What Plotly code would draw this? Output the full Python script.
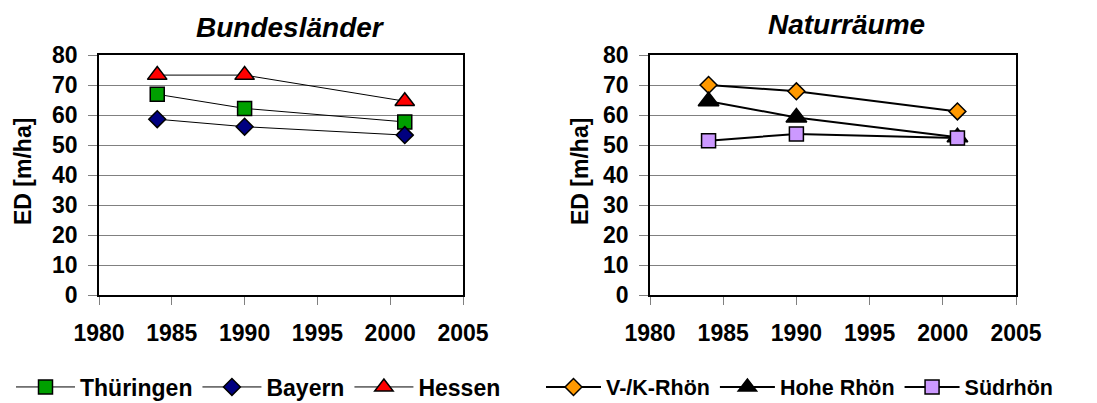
import plotly.graph_objects as go

# Survey years
years = [1984, 1990, 2001]

# Edge density ED [m/ha] per federal state
thueringen = [66.9, 62.2, 57.7]
bayern = [58.6, 56.1, 53.3]
hessen = [73.3, 73.3, 64.6]

# Edge density ED [m/ha] per natural region
vk_rhoen = [70.0, 67.9, 61.2]
hohe_rhoen = [64.6, 59.2, 52.6]
suedrhoen = [51.4, 53.7, 52.3]

FONT = "Liberation Sans, Arial, sans-serif"
W, H = 1097, 403


def px_x(p):
    return p / W


def px_y(p):
    return 1 - p / H


fig = go.Figure()

left_series = [
    ("Thüringen", thueringen, "square", "#00A000", 14),
    ("Bayern", bayern, "diamond", "#000080", 13),
    ("Hessen", hessen, "triangle-up", "#FF0000", 17),
]
right_series = [
    ("V-/K-Rhön", vk_rhoen, "diamond", "#FF9900", 13),
    ("Hohe Rhön", hohe_rhoen, "triangle-up", "#000000", 18),
    ("Südrhön", suedrhoen, "square", "#CC99FF", 14),
]

for name, vals, sym, col, size in left_series:
    fig.add_trace(go.Scatter(
        x=years, y=vals, name=name, mode="lines+markers",
        line=dict(color="#000000", width=1),
        marker=dict(symbol=sym, size=size, color=col,
                    line=dict(color="#000000", width=1.5)),
        xaxis="x", yaxis="y", legend="legend",
    ))

for name, vals, sym, col, size in right_series:
    fig.add_trace(go.Scatter(
        x=years, y=vals, name=name, mode="lines+markers",
        line=dict(color="#000000", width=2),
        marker=dict(symbol=sym, size=size, color=col,
                    line=dict(color="#000000", width=1.5)),
        xaxis="x2", yaxis="y2", legend="legend2",
    ))

tickfont = dict(family=FONT, size=23, color="#000000", weight="bold")

xaxis_common = dict(
    range=[1980, 2005], dtick=5, tick0=1980,
    showgrid=False, zeroline=False,
    showline=True, linecolor="#000000", linewidth=1.5, mirror=True,
    ticks="outside", ticklen=8, tickcolor="#808080", tickwidth=1,
    tickfont=tickfont, ticklabelstandoff=9, automargin=False,
)
yaxis_common = dict(
    range=[0, 80], dtick=10, tick0=0,
    showgrid=True, gridcolor="#808080", gridwidth=1, zeroline=False,
    showline=True, linecolor="#000000", linewidth=1.5, mirror=True,
    ticks="outside", ticklen=9, tickcolor="#808080", tickwidth=1,
    tickfont=tickfont, ticklabelstandoff=6, automargin=False,
)

y_dom = [px_y(295), px_y(55)]

legend_common = dict(
    orientation="h", yanchor="middle", xanchor="left",
    bgcolor="rgba(0,0,0,0)", tracegroupgap=0,
)

fig.update_layout(
    template="none",
    width=W, height=H,
    margin=dict(l=0, r=0, t=0, b=0, pad=0, autoexpand=False),
    paper_bgcolor="#FFFFFF", plot_bgcolor="#FFFFFF",
    font=dict(family=FONT, color="#000000"),
    xaxis=dict(domain=[px_x(99), px_x(463)], anchor="y", **xaxis_common),
    yaxis=dict(domain=y_dom, anchor="x", **yaxis_common),
    xaxis2=dict(domain=[px_x(650), px_x(1016)], anchor="y2", **xaxis_common),
    yaxis2=dict(domain=y_dom, anchor="x2", **yaxis_common),
    legend=dict(x=px_x(11), y=px_y(387), itemwidth=59,
                font=dict(family=FONT, size=23, color="#000000",
                          weight="bold"),
                **legend_common),
    legend2=dict(x=px_x(541), y=px_y(387), itemwidth=55,
                 font=dict(family=FONT, size=21.5, color="#000000",
                           weight="bold"),
                 **legend_common),
    showlegend=True,
)

title_font = dict(family=FONT, size=28, color="#000000",
                  weight="bold", style="italic")
axis_title_font = dict(family=FONT, size=23, color="#000000", weight="bold")

fig.add_annotation(text="Bundesländer", x=px_x(290), y=px_y(28),
                   xref="paper", yref="paper", showarrow=False,
                   xanchor="center", yanchor="middle", font=title_font)
fig.add_annotation(text="Naturräume", x=px_x(846), y=px_y(24),
                   xref="paper", yref="paper", showarrow=False,
                   xanchor="center", yanchor="middle", font=title_font)

for xpos in (23, 580):
    fig.add_annotation(text="ED [m/ha]", x=px_x(xpos), y=px_y(172),
                       xref="paper", yref="paper", showarrow=False,
                       textangle=-90, xanchor="center", yanchor="middle",
                       font=axis_title_font)

fig.write_html("out.html")
